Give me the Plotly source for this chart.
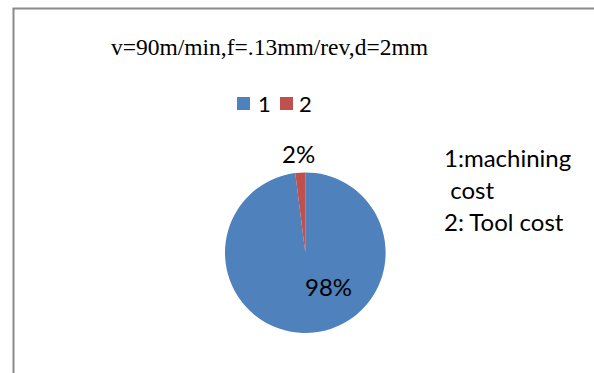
import plotly.graph_objects as go

# Cost breakdown for one cutting condition
categories = ["1", "2"]
shares = [98, 2]
colors = ["#4F81BD", "#C0504D"]
title_text = "v=90m/min,f=.13mm/rev,d=2mm"
note_lines = ["1:machining", " cost", "2: Tool cost"]

W, H = 594, 373


def px(x):
    return x / W


def py(y):
    return 1 - y / H


cx, cy, r = 305.3, 252.7, 80.3

fig = go.Figure(
    go.Pie(
        labels=categories,
        values=shares,
        marker=dict(colors=colors, line=dict(width=0)),
        sort=False,
        direction="clockwise",
        rotation=0,
        textinfo="none",
        hoverinfo="label+percent",
        showlegend=False,
        domain=dict(x=[px(cx - r), px(cx + r)], y=[py(cy + r), py(cy - r)]),
    )
)

total = sum(shares)
pct = [f"{round(v / total * 100)}%" for v in shares]

label_font = dict(family="Lato, Carlito, sans-serif", size=24, color="#000000")

annotations = [
    dict(x=px(269), y=py(47), text=title_text, showarrow=False,
         xanchor="center", yanchor="middle",
         font=dict(family="Liberation Serif, Times New Roman, serif", size=23.5, color="#000000")),
    # slice value labels
    dict(x=px(328), y=py(286), text=pct[0], showarrow=False,
         xanchor="center", yanchor="middle", font=label_font),
    dict(x=px(298), y=py(153), text=pct[1], showarrow=False,
         xanchor="center", yanchor="middle", font=label_font),
]

# side note explaining the categories
for line, yc in zip(note_lines, [157, 189, 221.5]):
    shown = line.replace(" ", "&nbsp;", 1) if line.startswith(" ") else line
    annotations.append(dict(x=px(441.5), y=py(yc), text=shown,
                            showarrow=False, xanchor="left", yanchor="middle", font=label_font))

# legend entries
legend_x = [(237, 257), (280, 298)]
shapes = []
for (sx, tx), name, col in zip(legend_x, categories, colors):
    shapes.append(dict(type="rect", xref="paper", yref="paper",
                       x0=px(sx), x1=px(sx + 13), y0=py(110), y1=py(97),
                       fillcolor=col, line=dict(width=0)))
    annotations.append(dict(x=px(tx - 1), y=py(104), text=name, showarrow=False,
                            xanchor="left", yanchor="middle",
                            font=dict(family="Lato, Carlito, sans-serif", size=22, color="#000000")))

# chart area frame (left and top edges)
shapes.append(dict(type="line", xref="paper", yref="paper",
                   x0=px(13.5), x1=px(13.5), y0=0, y1=py(8.5),
                   line=dict(color="#8a8a8a", width=2)))
shapes.append(dict(type="line", xref="paper", yref="paper",
                   x0=px(12.5), x1=1, y0=py(8.5), y1=py(8.5),
                   line=dict(color="#8a8a8a", width=2)))

fig.update_layout(
    width=W, height=H,
    margin=dict(l=0, r=0, t=0, b=0),
    paper_bgcolor="white",
    plot_bgcolor="white",
    annotations=annotations,
    shapes=shapes,
)

fig.write_html("out.html")
